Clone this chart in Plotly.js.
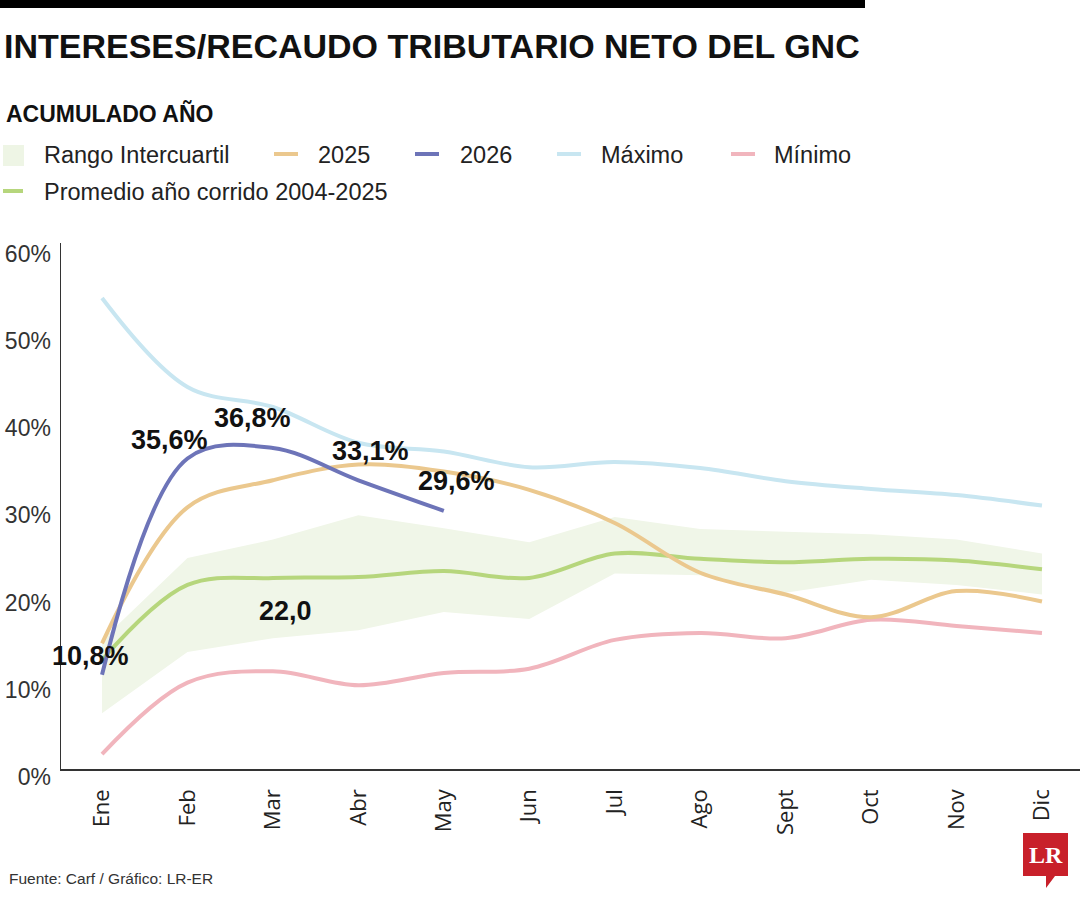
<!DOCTYPE html>
<html>
<head>
<meta charset="utf-8">
<script src="https://cdn.plot.ly/plotly-3.0.1.min.js"></script>
<style>
  html, body { margin: 0; padding: 0; background: #ffffff; }
  #chart { width: 1080px; height: 900px; }
</style>
</head>
<body>
<div id="chart"></div>
<script>
// ---------- DATA ----------
const months = ['Ene','Feb','Mar','Abr','May','Jun','Jul','Ago','Sept','Oct','Nov','Dic'];
const iqrUpper = [14.8, 24.2, 26.3, 29.1, 27.6, 26.0, 28.9, 27.5, 27.2, 26.9, 26.3, 24.7];
const iqrLower = [6.4, 13.4, 15.0, 15.9, 18.0, 17.2, 22.4, 22.2, 20.2, 21.7, 21.1, 20.0];
const promedio = [12.5, 21.1, 21.9, 22.0, 22.7, 21.9, 24.7, 24.1, 23.7, 24.1, 23.9, 22.9];
const y2025 = [14.4, 30.0, 33.1, 34.9, 34.1, 32.0, 28.2, 22.5, 20.0, 17.4, 20.4, 19.2];
const y2026 = [10.8, 35.6, 36.8, 33.1, 29.6];
const maximo = [54.0, 43.8, 41.5, 37.4, 36.4, 34.6, 35.2, 34.5, 33.0, 32.1, 31.4, 30.2];
const minimo = [1.7, 9.9, 11.2, 9.6, 11.0, 11.5, 14.8, 15.6, 15.0, 17.1, 16.4, 15.6];
const yTicks = [0, 10, 20, 30, 40, 50, 60];
const seriesNames = ['Rango Intercuartil', '2025', '2026', 'Máximo', 'Mínimo', 'Promedio año corrido 2004-2025'];
const labels2026 = ['10,8%', '35,6%', '36,8%', '33,1%', '29,6%'];
const promedioLabel = '22,0';

// ---------- STYLE ----------
const SANS = '"Liberation Sans Narrow", "Liberation Sans", Arial, sans-serif';
const C = {
  band: '#f0f6e8', prom: '#b6d67c', c2025: '#ebc88e', c2026: '#6d74b8',
  max: '#c8e6f1', min: '#f1b5bd', text: '#222222'
};
const W = 1080, H = 900, L = 61, R = 0, T = 243, B = 131;
const pw = W - L - R, ph = H - T - B;
const px = x => (x - L) / pw;
const py = y => (H - B - y) / ph;

const lineW = 4;
const traces = [
  { x: months, y: iqrLower, type: 'scatter', mode: 'lines', line: {width: 0, color: C.band}, showlegend: false, hoverinfo: 'skip' },
  { x: months, y: iqrUpper, type: 'scatter', mode: 'lines', fill: 'tonexty', fillcolor: C.band, line: {width: 0, color: C.band}, name: seriesNames[0], showlegend: false },
  { x: months, y: minimo, type: 'scatter', mode: 'lines', line: {color: C.min, width: lineW, shape: 'spline', smoothing: 1}, name: seriesNames[4], showlegend: false },
  { x: months, y: maximo, type: 'scatter', mode: 'lines', line: {color: C.max, width: lineW, shape: 'spline', smoothing: 1}, name: seriesNames[3], showlegend: false },
  { x: months, y: promedio, type: 'scatter', mode: 'lines', line: {color: C.prom, width: lineW, shape: 'spline', smoothing: 1}, name: seriesNames[5], showlegend: false },
  { x: months, y: y2025, type: 'scatter', mode: 'lines', line: {color: C.c2025, width: lineW, shape: 'spline', smoothing: 1}, name: seriesNames[1], showlegend: false },
  { x: months.slice(0, y2026.length), y: y2026, type: 'scatter', mode: 'lines', line: {color: C.c2026, width: lineW, shape: 'spline', smoothing: 1}, name: seriesNames[2], showlegend: false }
];

// data label offsets (pixels)
const lblShift = [[-12, 19], [-18, 18], [-20, 30], [12, 29], [13, 30]];
const labelFont = {family: SANS, size: 27, color: '#111', weight: 700};
const annotations = [];
y2026.forEach((v, i) => {
  annotations.push({
    x: months[i], y: v, xref: 'x', yref: 'y', text: labels2026[i], showarrow: false,
    xanchor: 'center', yanchor: 'middle', xshift: lblShift[i][0], yshift: lblShift[i][1],
    font: labelFont
  });
});
annotations.push({
  x: months[2], y: promedio[2], xref: 'x', yref: 'y', text: promedioLabel, showarrow: false,
  xanchor: 'center', yanchor: 'middle', xshift: 13, yshift: -33,
  font: labelFont
});

// subtitle
annotations.push({
  xref: 'paper', yref: 'paper', x: px(4), y: py(113), xanchor: 'left', yanchor: 'middle',
  text: 'ACUMULADO AÑO', showarrow: false,
  font: {family: SANS, size: 23, color: '#111', weight: 700}
});

// manual legend
const legendFont = {family: SANS, size: 23.5, color: '#222'};
const legendItems = [
  {name: seriesNames[0], kind: 'box', color: C.band, sx: 3, tx: 42, y: 155},
  {name: seriesNames[1], kind: 'line', color: C.c2025, sx: 274, tx: 316, y: 155},
  {name: seriesNames[2], kind: 'line', color: C.c2026, sx: 415, tx: 458, y: 155},
  {name: seriesNames[3], kind: 'line', color: C.max, sx: 557, tx: 599, y: 155},
  {name: seriesNames[4], kind: 'line', color: C.min, sx: 731, tx: 772, y: 155},
  {name: seriesNames[5], kind: 'line', color: C.prom, sx: 3, tx: 42, y: 192}
];
const shapes = [];
legendItems.forEach(it => {
  annotations.push({
    xref: 'paper', yref: 'paper', x: px(it.tx), y: py(it.y), xanchor: 'left', yanchor: 'middle',
    text: it.name, showarrow: false, font: legendFont
  });
  if (it.kind === 'box') {
    shapes.push({type: 'rect', xref: 'paper', yref: 'paper', x0: px(it.sx), x1: px(it.sx + 21),
      y0: py(it.y - 10), y1: py(it.y + 11), fillcolor: '#eef5e5', line: {width: 0}});
  } else {
    const w = it.name.length > 10 ? 20 : 24;
    shapes.push({type: 'line', xref: 'paper', yref: 'paper', x0: px(it.sx), x1: px(it.sx + w),
      y0: py(it.y - 1), y1: py(it.y - 1), line: {color: it.color, width: 4}});
  }
});

// black bar at top
shapes.push({type: 'rect', xref: 'paper', yref: 'paper', x0: px(0), x1: px(865), y0: py(0), y1: py(8),
  fillcolor: '#000', line: {width: 0}});

// source
annotations.push({
  xref: 'paper', yref: 'paper', x: px(7), y: py(878), xanchor: 'left', yanchor: 'middle',
  text: 'Fuente: Carf / Gráfico: LR-ER', showarrow: false,
  font: {family: SANS, size: 15.5, color: '#333'}
});

// LR logo
shapes.push({type: 'path', xref: 'paper', yref: 'paper',
  path: `M ${px(1023)} ${py(833)} L ${px(1068)} ${py(833)} L ${px(1068)} ${py(876)} L ${px(1055)} ${py(876)} L ${px(1046)} ${py(888)} L ${px(1046)} ${py(876)} L ${px(1023)} ${py(876)} Z`,
  fillcolor: '#c8202a', line: {width: 0}});
annotations.push({
  xref: 'paper', yref: 'paper', x: px(1045.5), y: py(855), xanchor: 'center', yanchor: 'middle',
  text: '<b>LR</b>', showarrow: false,
  font: {family: '"Liberation Serif", "DejaVu Serif", serif', size: 24, color: '#fff'}
});

const layout = {
  width: W, height: H,
  margin: {l: L, r: R, t: T, b: B, pad: 0},
  paper_bgcolor: '#fff', plot_bgcolor: '#fff',
  showlegend: false,
  title: {
    text: 'INTERESES/RECAUDO TRIBUTARIO NETO DEL GNC',
    xref: 'container', yref: 'container', x: 4 / W, xanchor: 'left', y: 1 - 46 / H, yanchor: 'middle',
    font: {family: SANS, size: 34, color: '#111', weight: 700}
  },
  xaxis: {
    type: 'category', categoryarray: months, range: [-0.48, 11.445],
    showline: true, linecolor: '#333', linewidth: 1.5, showgrid: false, zeroline: false,
    ticks: '', tickangle: -90, ticklabelstandoff: 10,
    tickfont: {family: '"Open Sans", sans-serif', size: 22, color: '#222'}
  },
  yaxis: {
    range: [0, 60.3], tickvals: yTicks, ticktext: yTicks.map(v => v + '%'),
    showline: true, linecolor: '#333', linewidth: 1.5, showgrid: false, zeroline: false,
    ticks: '', ticklabelstandoff: 4, ticklabelshift: 8,
    tickfont: {family: SANS, size: 23, color: '#333'}
  },
  annotations: annotations,
  shapes: shapes,
  hovermode: false
};

Plotly.newPlot('chart', traces, layout, {displayModeBar: false, staticPlot: true});
</script>
</body>
</html>
